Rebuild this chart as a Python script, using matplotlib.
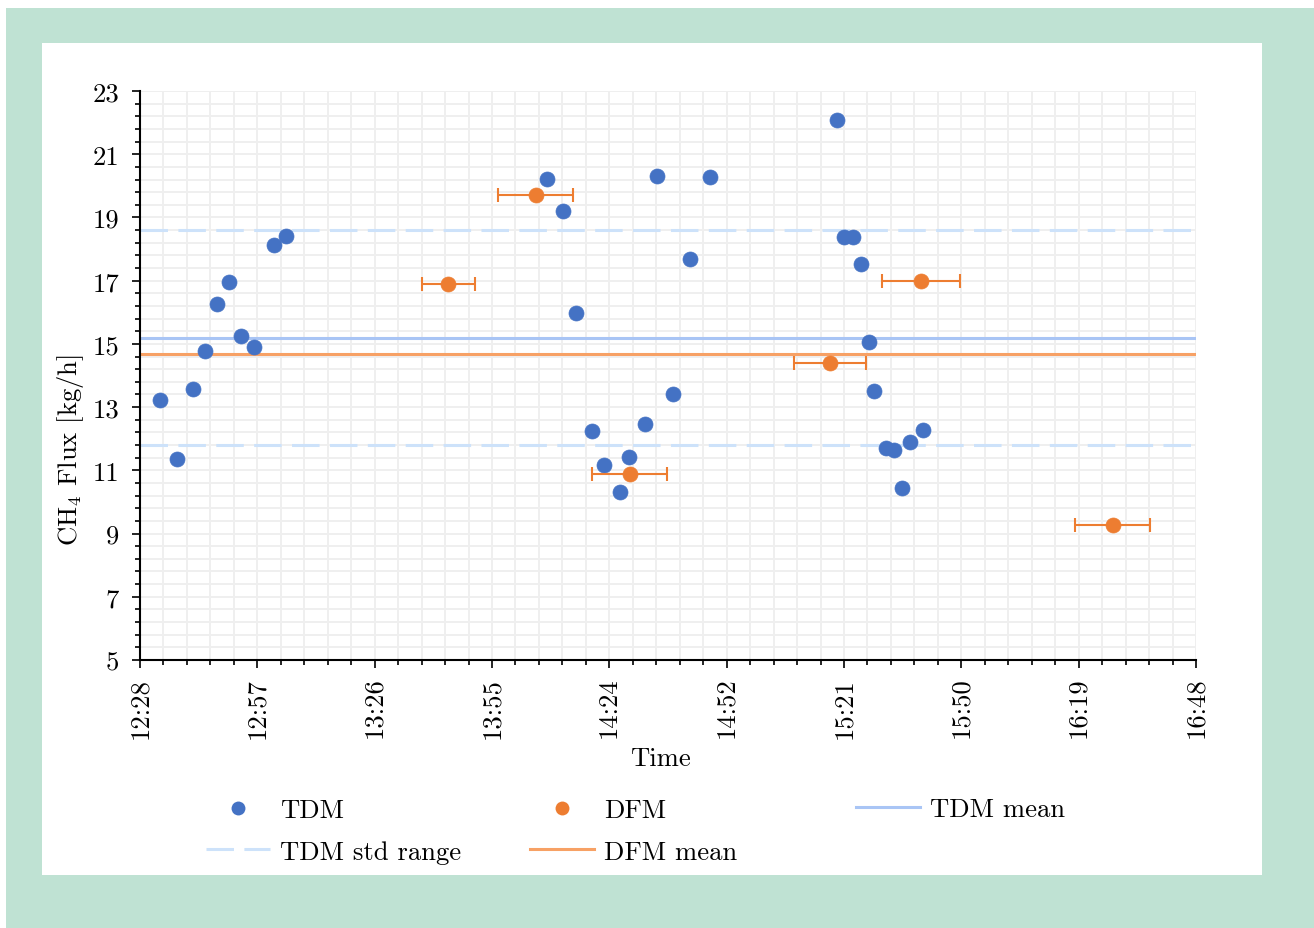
import matplotlib
matplotlib.use("Agg")
import matplotlib.pyplot as plt
from matplotlib.patches import Rectangle
from matplotlib.lines import Line2D
import numpy as np

# ---------------- data ----------------
tdm_times = ["12:33:43", "12:37:53", "12:41:49", "12:44:45", "12:47:42", "12:50:39",
             "12:53:35", "12:56:47", "13:01:41", "13:04:38", "14:08:42", "14:12:38",
             "14:15:49", "14:19:44", "14:22:41", "14:26:37", "14:28:50", "14:32:45",
             "14:35:42", "14:39:38", "14:43:48", "14:48:43", "15:19:48", "15:21:40",
             "15:23:53", "15:25:50", "15:27:49", "15:28:53", "15:31:55", "15:33:56",
             "15:35:55", "15:37:52", "15:40:55"]
tdm_flux = [13.22, 11.36, 13.57, 14.78, 16.25, 16.96, 15.25, 14.89, 18.13, 18.42,
            20.22, 19.20, 15.98, 12.25, 11.18, 10.32, 11.41, 12.48, 20.31, 13.41,
            17.68, 20.29, 22.09, 18.39, 18.39, 17.53, 15.07, 13.51, 11.71, 11.64,
            10.43, 11.91, 12.29]

dfm_times = ["13:44:28", "14:05:56", "14:29:04", "15:18:13", "15:40:25", "16:27:37"]
dfm_flux = [16.89, 19.71, 10.88, 14.39, 17.00, 9.28]
dfm_err_min = [6.5, 9.2, 9.2, 8.8, 9.6, 9.2]

tdm_mean = 15.18
tdm_std_low = 11.80
tdm_std_high = 18.60
dfm_mean = 14.69

x_tick_labels = ["12:28", "12:57", "13:26", "13:55", "14:24", "14:52",
                 "15:21", "15:50", "16:19", "16:48"]
y_ticks = [5, 7, 9, 11, 13, 15, 17, 19, 21, 23]


def to_min(s):
    h, m, sec = (int(v) for v in s.split(":"))
    return h * 60 + m + sec / 60.0


tdm_x = [to_min(t) for t in tdm_times]
dfm_x = [to_min(t) for t in dfm_times]

# ---------------- style ----------------
plt.rcParams['font.family'] = ['cmr10', 'DejaVu Serif']
plt.rcParams['mathtext.fontset'] = 'cm'
plt.rcParams['axes.formatter.use_mathtext'] = True
FS = 19.2

W, H = 1314, 929
fig = plt.figure(figsize=(W / 100, H / 100), dpi=100, facecolor='white')

# background frames
fig.patches.append(Rectangle((6 / W, 0), 1 - 6 / W, 1 - 9 / H, transform=fig.transFigure,
                             facecolor='#bfe2d3', edgecolor='none', zorder=-10))
fig.patches.append(Rectangle((42 / W, 1 - 876 / H), (1262 - 42) / W, (876 - 44) / H,
                             transform=fig.transFigure, facecolor='white',
                             edgecolor='none', zorder=-9))

ax = fig.add_axes([140 / W, 1 - 661 / H, (1196 - 140) / W, (661 - 92) / H])
ax.set_facecolor('none')

x0 = 12 * 60 + 28.8
step = 28.8
ax.set_xlim(x0, x0 + 9 * step)
ax.set_ylim(5, 23)

major_x = [x0 + i * step for i in range(len(x_tick_labels))]
ax.set_xticks(major_x)
ax.set_xticklabels(x_tick_labels, rotation=90, fontsize=FS)
ax.set_xticks(np.arange(x0, x0 + 9 * step + 0.01, step / 5), minor=True)
ax.set_yticks(y_ticks)
ax.set_yticklabels([str(v) for v in y_ticks], fontsize=FS)
ax.set_yticks(np.arange(5, 23.01, 0.4), minor=True)

ax.grid(True, which='both', color='#efefef', lw=1.4, zorder=0)
ax.set_axisbelow(True)

for s in ['top', 'right']:
    ax.spines[s].set_visible(False)
for s in ['left', 'bottom']:
    ax.spines[s].set_linewidth(1.5)
ax.tick_params(axis='both', which='major', length=6, width=1.2, color='black')
ax.tick_params(axis='both', which='minor', length=3.5, width=1.2, color='black')
ax.tick_params(axis='y', which='major', pad=9)
ax.tick_params(axis='x', which='major', pad=6)

# reference lines
blue_mean_c = '#a9c5f5'
blue_std_c = '#cde2fa'
orange_mean_c = '#f7a165'
ax.axhline(tdm_std_high, color=blue_std_c, lw=2.2, ls=(0, (9, 3.4)), zorder=2)
ax.axhline(tdm_std_low, color=blue_std_c, lw=2.2, ls=(0, (9, 3.4)), zorder=2)
ax.axhline(tdm_mean, color=blue_mean_c, lw=2.2, zorder=2)
ax.axhline(dfm_mean, color=orange_mean_c, lw=2.2, zorder=2)

# data
blue = '#4472c4'
orange = '#ed7d31'
ax.plot(tdm_x, tdm_flux, 'o', color=blue, ms=10.8, markeredgecolor=blue, mew=0.5,
        zorder=4, clip_on=False)
ax.errorbar(dfm_x, dfm_flux, xerr=dfm_err_min, fmt='none',
            ecolor=orange, elinewidth=1.5, capsize=4.8, capthick=1.5, zorder=4)
ax.plot(dfm_x, dfm_flux, 'o', color=orange, ms=10.8, markeredgecolor=orange, mew=0.5,
        zorder=5)

ax.set_xlabel('Time', fontsize=FS)
ax.xaxis.set_label_coords((660 - 140) / 1056, (661 - 759) / 569)
ax.xaxis.label.set_va('center')
ax.set_ylabel(r'CH$_4$ Flux [kg/h]', fontsize=FS)
ax.yaxis.set_label_coords((70 - 140) / 1056, 1 - (450 - 92) / 569)
ax.yaxis.label.set_va('center')

# legend (three columns placed as in the reference)
h_tdm = Line2D([], [], ls='none', marker='o', color=blue, ms=10, mew=0)
h_dfm = Line2D([], [], ls='none', marker='o', color=orange, ms=10, mew=0)
h_tdm_mean = Line2D([], [], color=blue_mean_c, lw=2.2)
h_std = Line2D([], [], color=blue_std_c, lw=2.2, ls=(0, (9, 3.4)))
h_dfm_mean = Line2D([], [], color=orange_mean_c, lw=2.2)

fs_px = FS * 100 / 72
leg_kw = dict(frameon=False, fontsize=FS, handlelength=64 / fs_px, handletextpad=10 / fs_px,
              borderpad=0, borderaxespad=0, labelspacing=0.68, numpoints=1)
hl_pad = (64 + 10)


def add_leg(handles, labels, text_x, center_y):
    fig.legend(handles, labels, loc='center left',
               bbox_to_anchor=((text_x - hl_pad) / W, 1 - center_y / H), **leg_kw)


add_leg([h_tdm, h_std], ['TDM', 'TDM std range'], 280, 832)
add_leg([h_dfm, h_dfm_mean], ['DFM', 'DFM mean'], 604, 832)
add_leg([h_tdm_mean], ['TDM mean'], 930, 810)

fig.savefig('out.png', dpi=100, facecolor=fig.get_facecolor())
